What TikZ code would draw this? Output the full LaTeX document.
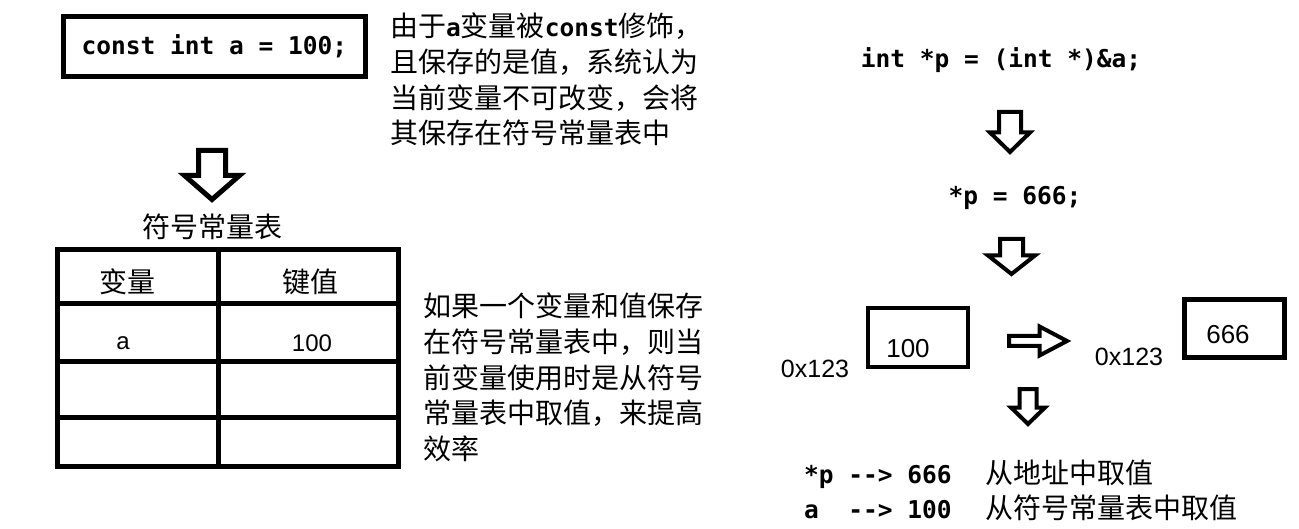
\documentclass[tikz,border=0pt]{standalone}
\usepackage{fontspec}
\setmainfont{Liberation Sans}
\setmonofont{DejaVu Sans Mono}
\newfontfamily\zhfont{Noto Sans CJK SC}
\usepackage{tikz}
\usetikzlibrary{positioning}
\newcommand{\codefont}{\ttfamily\bfseries\fontsize{24.5}{30}\selectfont}
\newcommand{\zhsize}{\zhfont\mdseries\fontsize{28}{35.6}\selectfont}
\newcommand{\numfont}{\fontsize{26}{30}\selectfont}
\newcommand{\cd}[1]{{\codefont #1}}
\tikzset{
  box/.style={draw,line width=5pt,inner sep=0pt},
  cell/.style={draw,line width=5pt,inner sep=0pt,outer sep=0pt},
  zh/.style={font=\zhsize,inner sep=0pt,align=left},
  code/.style={font=\codefont,inner sep=0pt},
  num/.style={font=\numfont,inner sep=0pt},
  fat/.style={draw,fill=white,line width=4pt},
}

\begin{document}
\begin{tikzpicture}[x=1pt,y=-1pt]
\useasboundingbox (0,0) rectangle (1299,529);
% left half: const variable and symbol table
\node[box,minimum width=302pt,minimum height=60pt,font=\codefont] (decl) at (214.5,46.5) {const int a = 100;};
\node[zh,anchor=north west] (note1) at (390,13) {由于\cd{a}变量被\cd{const}修饰，\\且保存的是值，系统认为\\当前变量不可改变，会将\\其保存在符号常量表中};
\draw[fat,line width=5pt] (198.5,150.5) -- (225.5,150.5) -- (225.5,175.5) -- (239.5,175.5) -- (212,199.5) -- (184.5,175.5) -- (198.5,175.5) -- cycle;
\node[zh] (tabtitle) at (212,227) {符号常量表};
\node[cell,anchor=north west,minimum width=161pt,minimum height=54pt] (h1) at (57,250) {};
\node[cell,minimum width=180pt,minimum height=54pt,right=0pt of h1] (h2) {};
\node[cell,minimum width=161pt,minimum height=58pt,below=0pt of h1] (r1a) {};
\node[cell,minimum width=180pt,minimum height=58pt,right=0pt of r1a] (r1b) {};
\node[cell,minimum width=161pt,minimum height=55pt,below=0pt of r1a] (r2a) {};
\node[cell,minimum width=180pt,minimum height=55pt,right=0pt of r2a] (r2b) {};
\node[cell,minimum width=161pt,minimum height=49pt,below=0pt of r2a] (r3a) {};
\node[cell,minimum width=180pt,minimum height=49pt,right=0pt of r3a] (r3b) {};
\node[zh] (hvar) at (127,282) {变量};
\node[zh] (hval) at (310,282) {键值};
\node[num,font=\fontsize{24}{28}\selectfont] (tvar) at (123,343) {a};
\node[num,font=\fontsize{24}{28}\selectfont] (tval) at (312,343) {100};
\node[zh,anchor=north west] (note2) at (423,293) {如果一个变量和值保存\\在符号常量表中，则当\\前变量使用时是从符号\\常量表中取值，来提高\\效率};
% right half: writing through a pointer
\node[code] (cast) at (1001,60) {int *p = (int *)\&a;};
\draw[fat] (999,112) -- (1021,112) -- (1021,132.5) -- (1030,132.5) -- (1010,152) -- (990,132.5) -- (999,132.5) -- cycle;
\node[code] (assign) at (1015,198) {*p = 666;};
\draw[fat] (1000,239) -- (1023,239) -- (1023,255.5) -- (1035,255.5) -- (1011.5,274) -- (988,255.5) -- (1000,255.5) -- cycle;
\node[box,line width=4pt,minimum width=100pt,minimum height=59pt] (cellold) at (918,337.5) {};
\node[num] (valold) at (908,349) {100};
\node[num,font=\fontsize{25}{30}\selectfont] (addrold) at (815,369) {0x123};
\draw[fat] (1009,336) -- (1039.5,336) -- (1039.5,326.5) -- (1067,341) -- (1039.5,355.5) -- (1039.5,346) -- (1009,346) -- cycle;
\node[box,minimum width=100pt,minimum height=58pt] (cellnew) at (1234.5,328.5) {};
\node[num] (valnew) at (1228,335) {666};
\node[num,font=\fontsize{25}{30}\selectfont] (addrnew) at (1129,357) {0x123};
\draw[fat] (1019.5,389) -- (1036.5,389) -- (1036.5,407.5) -- (1045,407.5) -- (1028,424) -- (1011,407.5) -- (1019.5,407.5) -- cycle;
\node[code,anchor=west] (read1) at (804,474) {*p -{}-> 666\ \ \kern4pt{\zhsize 从地址中取值}};
\node[code,anchor=west] (read2) at (804,508) {a\ \ -{}-> 100\ \ \kern4pt{\zhsize 从符号常量表中取值}};
\end{tikzpicture}
\end{document}
